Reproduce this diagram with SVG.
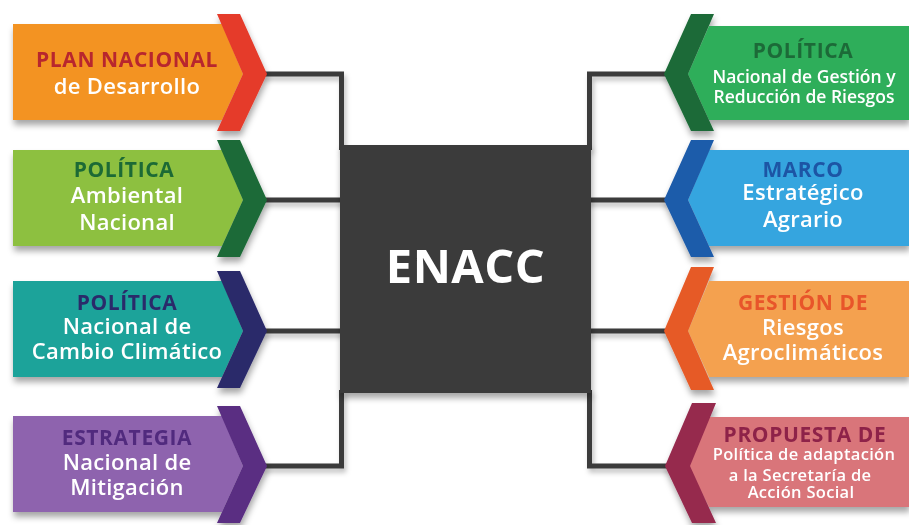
<svg xmlns="http://www.w3.org/2000/svg" width="909" height="525" viewBox="0 0 909 525">
<defs>
<filter id="sh" x="-10%" y="-10%" width="130%" height="140%">
<feDropShadow dx="1" dy="5" stdDeviation="3" flood-color="#000" flood-opacity="0.35"/>
</filter>
<filter id="lsh" x="-10%" y="-10%" width="130%" height="140%">
<feDropShadow dx="2" dy="4" stdDeviation="2.5" flood-color="#000" flood-opacity="0.25"/>
</filter>
</defs>
<style>
text{font-family:"Open Sans","DejaVu Sans",sans-serif;text-anchor:middle}
.t{font-weight:700;font-size:21px;letter-spacing:0.6px}
.s{font-weight:600;font-size:22px;letter-spacing:0.3px;fill:#fff}
.m{font-weight:600;font-size:17.5px;fill:#fff}
.n{font-weight:600;font-size:16.5px;letter-spacing:0.3px;fill:#fff}
.ln{fill:none;stroke:#3a3a3a;stroke-width:5}
</style>
<rect width="909" height="525" fill="#fff"/>

<g id="connectors" filter="url(#lsh)">
<path class="ln" d="M262,74 H341.5 V150"/>
<path class="ln" d="M262,200 H345"/>
<path class="ln" d="M262,331 H345"/>
<path class="ln" d="M262,466 H341.5 V390"/>
<path class="ln" d="M669,74 H589.5 V150"/>
<path class="ln" d="M669,200 H586"/>
<path class="ln" d="M669,331 H586"/>
<path class="ln" d="M669,466 H589.5 V390"/>
</g>

<g id="enacc" filter="url(#sh)">
<rect x="340" y="145" width="251" height="248" fill="#3a3a3a"/>
<text x="465.5" y="283" style="font-weight:700;font-size:47px;letter-spacing:0.5px;fill:#fff">ENACC</text>
</g>

<g id="plan-nacional" filter="url(#sh)">
<polygon points="13,24 222,24 243,74 222,120 13,120" fill="#F39322"/>
<polygon points="217,14 240,14 267,74 240,131 217,131 243,74" fill="#E53A2B"/>
<text class="t" x="127" y="67" fill="#B8262E">PLAN NACIONAL</text>
<text class="s" x="127" y="94">de Desarrollo</text>
</g>

<g id="politica-ambiental" filter="url(#sh)">
<polygon points="13,150 222,150 243,200 222,246 13,246" fill="#8DC03F"/>
<polygon points="217,140 240,140 267,200 240,257 217,257 243,200" fill="#1C6B37"/>
<text class="t" x="124" y="177" fill="#1D6A36">POLÍTICA</text>
<text class="s" x="127" y="203">Ambiental</text>
<text class="s" x="127" y="230">Nacional</text>
</g>

<g id="politica-cambio" filter="url(#sh)">
<polygon points="13,281 222,281 243,331 222,377 13,377" fill="#1FA39A"/>
<polygon points="217,271 240,271 267,331 240,388 217,388 243,331" fill="#2B2A6B"/>
<text class="t" x="127" y="310" fill="#2A2C6B">POLÍTICA</text>
<text class="s" x="127" y="334">Nacional de</text>
<text class="s" x="127" y="359">Cambio Climático</text>
</g>

<g id="estrategia" filter="url(#sh)">
<polygon points="13,416 222,416 243,466 222,512 13,512" fill="#8E63AE"/>
<polygon points="217,406 240,406 267,466 240,523 217,523 243,466" fill="#5A2D82"/>
<text class="t" x="127" y="445" fill="#512B7E">ESTRATEGIA</text>
<text class="s" x="127" y="470">Nacional de</text>
<text class="s" x="127" y="495">Mitigación</text>
</g>

<g id="politica-riesgos" filter="url(#sh)">
<polygon points="909,26 709,26 688,74 709,120 909,120" fill="#2EAE5A"/>
<polygon points="714,14 691,14 664,74 691,131 714,131 688,74" fill="#1B6B37"/>
<text class="t" x="803" y="58" fill="#1E6B38">POLÍTICA</text>
<text class="m" x="804" y="83">Nacional de Gestión y</text>
<text class="m" x="804" y="103">Reducción de Riesgos</text>
</g>

<g id="marco" filter="url(#sh)">
<polygon points="909,150 709,150 688,200 709,246 909,246" fill="#36A5DF"/>
<polygon points="714,140 691,140 664,200 691,257 714,257 688,200" fill="#1F5BAA"/>
<text class="t" x="803" y="177" fill="#1F55A5">MARCO</text>
<text class="s" x="803" y="200">Estratégico</text>
<text class="s" x="803" y="227">Agrario</text>
</g>

<g id="gestion" filter="url(#sh)">
<polygon points="909,281 709,281 688,331 709,377 909,377" fill="#F4A150"/>
<polygon points="714,267 691,267 664,331 691,390 714,390 688,331" fill="#E65A26"/>
<text class="t" x="803" y="310" fill="#E8552A">GESTIÓN DE</text>
<text class="s" x="803" y="335">Riesgos</text>
<text class="s" x="803" y="360">Agroclimáticos</text>
</g>

<g id="propuesta" filter="url(#sh)">
<polygon points="909,417 709,417 688,466 709,507 909,507" fill="#D9747A"/>
<polygon points="716,403 692,403 665,466 692,523 716,523 690,466" fill="#962A4E"/>
<text class="t" x="805" y="442" fill="#8E2448">PROPUESTA DE</text>
<text class="n" x="804" y="460">Política de adaptación</text>
<text class="n" x="800" y="481">a la Secretaría de</text>
<text class="n" x="801" y="498">Acción Social</text>
</g>
</svg>
